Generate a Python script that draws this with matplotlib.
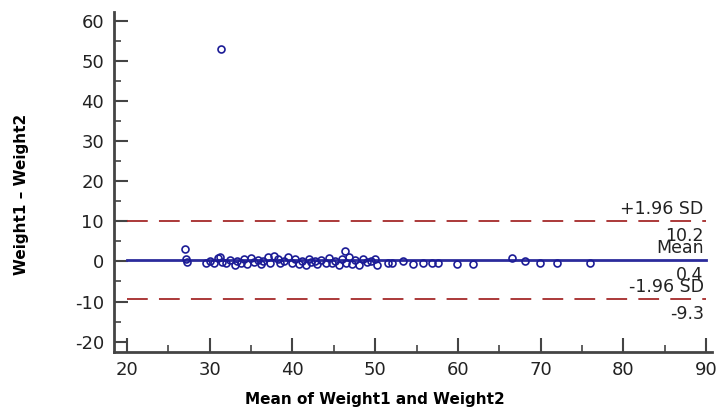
import numpy as np
import matplotlib
matplotlib.use("Agg")
import matplotlib.pyplot as plt
from matplotlib.ticker import MultipleLocator

# Bland-Altman data
mean_w = [27.0, 27.1, 27.2, 29.5, 30.0, 30.5, 31.0, 31.3, 31.4, 31.5,
          32.0, 32.5, 33.0, 33.3, 33.8, 34.2, 34.5, 35.0, 35.3, 35.8,
          36.2, 36.5, 37.0, 37.3, 37.8, 38.2, 38.5, 39.0, 39.5, 40.0,
          40.3, 40.8, 41.2, 41.6, 42.0, 42.3, 42.7, 43.0, 43.5, 44.0,
          44.4, 44.8, 45.2, 45.6, 46.0, 46.3, 46.5, 46.8, 47.2, 47.6,
          48.0, 48.5, 49.0, 49.5, 50.0, 50.2, 51.6, 52.0, 53.4, 54.6,
          55.8, 56.9, 57.6, 59.9, 61.8, 66.5, 68.1, 69.9, 72.0, 76.0]
diff_w = [3.2, 0.5, -0.2, -0.5, 0.2, -0.3, 0.8, 1.0, 53.0, -0.2,
          -0.5, 0.3, -0.8, 0.1, -0.4, 0.6, -0.6, 0.9, -0.2, 0.4,
          -0.7, 0.2, 1.0, -0.3, 1.3, 0.5, -0.5, 0.1, 1.0, -0.3,
          0.7, -0.6, 0.2, -0.8, 0.5, -0.2, 0.0, -0.7, 0.4, -0.3,
          0.8, -0.5, 0.2, -0.9, 0.6, 2.5, -0.4, 1.0, -0.6, 0.3,
          -0.8, 0.5, -0.2, 0.1, 0.6, -1.0, -0.3, -0.5, 0.1, -0.7,
          -0.4, -0.5, -0.3, -0.6, -0.6, 0.9, 0.2, -0.4, -0.4, -0.4]

mean_diff = 0.4
upper = 10.2
lower = -9.3
line_labels = [("+1.96 SD", "10.2", upper),
               ("Mean", "0.4", mean_diff),
               ("-1.96 SD", "-9.3", lower)]

plt.rcParams['font.family'] = ['DejaVu Sans']
plt.rcParams['axes.unicode_minus'] = False

fig = plt.figure(figsize=(7.21, 4.12), dpi=100)
ax = fig.add_axes([0.1577, 0.1464, 0.8298, 0.8246])

ax.plot(mean_w, diff_w, 'o', markersize=5, markerfacecolor='none',
        markeredgecolor='#1c1c96', markeredgewidth=1.2, zorder=3)

ax.plot([20, 90], [mean_diff, mean_diff], color='#2b2b9c', linewidth=2)
for v in (upper, lower):
    ax.plot([20, 90], [v, v], color='#a52a2a', linewidth=1.3,
            dashes=(11.5, 6.2))

for top_txt, val_txt, v in line_labels:
    ax.annotate(top_txt, (89.7, v), xytext=(0, 5), textcoords='offset points',
                ha='right', va='baseline', fontsize=12.5, color='#222222')
    ax.annotate(val_txt, (89.7, v), xytext=(0, -4.5), textcoords='offset points',
                ha='right', va='top', fontsize=12.5, color='#222222')

ax.set_xlim(18.4, 90.7)
ax.set_ylim(-22.5, 62.2)
ax.xaxis.set_minor_locator(MultipleLocator(5))
ax.yaxis.set_minor_locator(MultipleLocator(5))
ax.set_xticks(np.arange(20, 91, 10))
ax.set_yticks(np.arange(-20, 61, 10))

for s in ('top', 'right'):
    ax.spines[s].set_visible(False)
for s in ('left', 'bottom'):
    ax.spines[s].set_linewidth(2)
    ax.spines[s].set_color('#444444')

ax.tick_params(which='major', direction='in', length=10, width=1.5,
               color='#444444', labelsize=13, labelcolor='#222222', pad=7)
ax.tick_params(which='minor', direction='in', length=5, width=1.2,
               color='#444444')

ax.set_xlabel("Mean of Weight1 and Weight2", fontsize=11,
              fontweight='bold')
ax.set_ylabel("Weight1 \u2013 Weight2", fontsize=11,
              fontweight='bold')
ax.xaxis.set_label_coords(0.437, -0.12)
ax.yaxis.set_label_coords(-0.141, 0.464)

fig.savefig("out.png", dpi=100)
